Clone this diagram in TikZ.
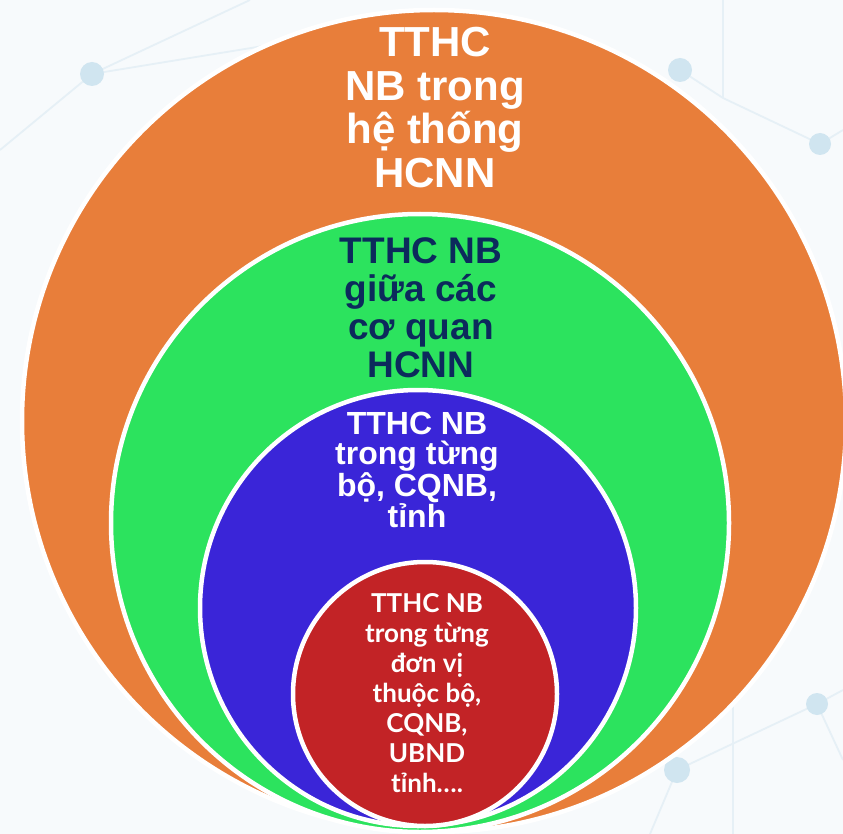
\documentclass[tikz,border=0pt]{standalone}
\usepackage{fontspec}
\setmainfont{Liberation Sans}
\newfontfamily\redfont{Lato}
\definecolor{bgc}{RGB}{247,250,252}
\definecolor{netc}{RGB}{230,240,246}
\definecolor{dotc}{RGB}{208,229,240}
\definecolor{orangec}{RGB}{232,126,58}
\definecolor{greenc}{RGB}{44,227,94}
\definecolor{bluec}{RGB}{58,37,216}
\definecolor{redc}{RGB}{194,35,38}
\definecolor{navyc}{RGB}{12,42,92}
\tikzset{
  ring/.style={draw=white, line width=4.5pt},
  lbl/.style={anchor=north, align=center, inner sep=0pt},
  net/.style={draw=netc, line width=1.8pt},
  netdot/.style={fill=dotc},
}
\begin{document}
\begin{tikzpicture}[x=1pt,y=-1pt]
\useasboundingbox (0,0) rectangle (843,834);
\clip (0,0) rectangle (843,834);
\fill[bgc] (0,0) rectangle (843,834);
% faint background network
\coordinate (n1) at (92,74);
\coordinate (n2) at (680,70);
\coordinate (n3) at (820,144);
\coordinate (n4) at (817,704);
\coordinate (n5) at (677,770);
\coordinate (n6) at (723,98);
\draw[net] (0,150) -- (n1) -- (250,0);
\draw[net] (n1) -- (300,40);
\draw[net] (n2) -- (n6) -- (n3) -- (843,130);
\draw[net] (n6) -- (723,0);
\draw[net] (n5) -- (n4) -- (843,690);
\draw[net] (n5) -- (650,834);
\draw[net] (733,600) -- (733,834);
\draw[net] (n4) -- (843,760);
\fill[netdot] (n1) circle (12);
\fill[netdot] (n2) circle (12);
\fill[netdot] (n3) circle (11);
\fill[netdot] (n4) circle (11);
\fill[netdot] (n5) circle (13);
% nested shapes
\path[ring, fill=orangec] (434,421) ellipse [x radius=412, y radius=411];
\path[ring, fill=greenc] (420,523) circle (309);
\path[ring, fill=bluec] (418,608) circle (218);
\path[ring, fill=redc] (425,694) circle (132);
% labels
\node[lbl, text=white, font={\bfseries\fontsize{42}{43.5}\selectfont}] (t1) at (435,27)
  {TTHC\\NB trong\\hệ thống\\HCNN};
\node[lbl, text=navyc, font={\bfseries\fontsize{37}{38}\selectfont}] (t2) at (421,237)
  {TTHC NB\\giữa các\\cơ quan\\HCNN};
\node[lbl, text=white, font={\bfseries\fontsize{32}{30}\selectfont}] (t3) at (417,412)
  {TTHC NB\\trong từng\\bộ, CQNB,\\tỉnh};
\node[lbl, text=white, font={\redfont\bfseries\fontsize{26}{30}\selectfont}] (t4) at (427,593)
  {TTHC NB\\trong từng\\đơn vị\\thuộc bộ,\\CQNB,\\UBND\\tỉnh….};
\end{tikzpicture}
\end{document}
